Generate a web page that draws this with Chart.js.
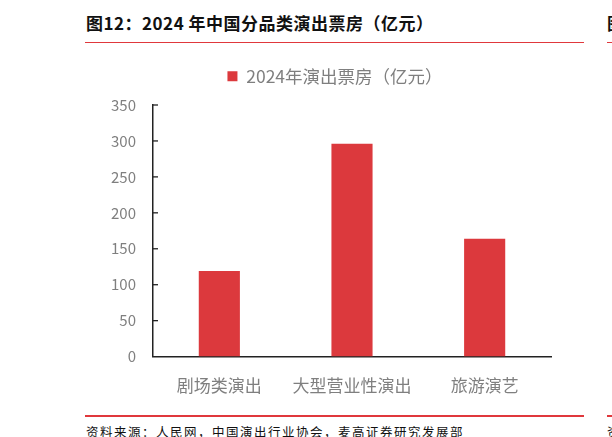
<!DOCTYPE html>
<html>
<head>
<meta charset="utf-8">
<script src="https://cdn.jsdelivr.net/npm/chart.js@4.4.1/dist/chart.umd.min.js"></script>
<style>
  html, body { margin: 0; padding: 0; background: #fff; }
  body { width: 612px; height: 437px; position: relative; overflow: hidden; font-family: "Noto Sans CJK SC", "Noto Sans", sans-serif; }
  #title { position: absolute; left: 86px; top: 11px; font-size: 17px; font-weight: bold; color: #111; white-space: nowrap; line-height: 24px; letter-spacing: 0.5px; }
  .redline { position: absolute; height: 1.5px; background: #e0383c; }
  #source { position: absolute; left: 86px; top: 423px; font-size: 12.5px; color: #111; letter-spacing: 1.5px; white-space: nowrap; line-height: 18px; }
  #chartbox { position: absolute; left: 85px; top: 42px; width: 499px; height: 373px; }
  .partial { position: absolute; left: 607px; white-space: nowrap; color: #111; }
</style>
</head>
<body>
<div id="title">图12：2024 年中国分品类演出票房（亿元）</div>
<div class="redline" style="left:85px; top:41.5px; width:499px;"></div>
<div class="partial" style="top:11px; font-size:17px; font-weight:bold; line-height:24px;">图</div>
<div class="redline" style="left:607px; top:41.5px; width:10px;"></div>
<div id="chartbox"><canvas id="c"></canvas></div>
<div class="redline" style="left:85px; top:415px; width:499px;"></div>
<div class="redline" style="left:607px; top:415px; width:10px;"></div>
<div id="source">资料来源：人民网，中国演出行业协会，麦高证券研究发展部</div>
<div class="partial" style="top:423px; font-size:12.5px; line-height:18px;">资</div>
<script>
const categories = ["剧场类演出", "大型营业性演出", "旅游演艺"];
const seriesName = "2024年演出票房（亿元）";
const boxOffice = [119, 296, 164];
const yTicks = [0, 50, 100, 150, 200, 250, 300, 350];

const insideTicks = {
  id: 'insideTicks',
  afterLayout(chart) {
    const lg = chart.legend;
    if (lg) {
      lg.left += 7; lg.right += 7;
      lg.top -= 10; lg.bottom -= 10;
    }
  },
  afterDraw(chart) {
    const ys = chart.scales.y;
    const ctx = chart.ctx;
    const left = chart.chartArea.left;
    ctx.save();
    ctx.strokeStyle = '#222';
    ctx.lineWidth = 1.3;
    ys.ticks.forEach((t) => {
      if (t.value === 0) return;
      const y = ys.getPixelForValue(t.value);
      ctx.beginPath();
      ctx.moveTo(left, y);
      ctx.lineTo(left + 5, y);
      ctx.stroke();
    });
    ctx.restore();
  }
};

new Chart(document.getElementById('c'), {
  type: 'bar',
  data: {
    labels: categories,
    datasets: [{
      label: seriesName,
      data: boxOffice,
      backgroundColor: '#dc393d',
      borderWidth: 0,
      barPercentage: 0.31,
      categoryPercentage: 1.0
    }]
  },
  options: {
    responsive: true,
    maintainAspectRatio: false,
    animation: false,
    layout: { padding: { left: 20, right: 33, top: 0, bottom: 0 } },
    plugins: {
      legend: {
        position: 'top',
        labels: {
          boxWidth: 10,
          boxHeight: 10,
          padding: 35.5,
          color: '#7f7f7f',
          font: { family: '"Noto Sans CJK SC", "Noto Sans", sans-serif', size: 17.5 }
        }
      },
      tooltip: { enabled: false }
    },
    scales: {
      x: {
        grid: { display: false, drawTicks: false },
        border: { display: true, color: '#222', width: 1.5 },
        ticks: {
          color: '#7f7f7f',
          padding: 19,
          font: { family: '"Noto Sans CJK SC", "Noto Sans", sans-serif', size: 17 }
        }
      },
      y: {
        min: 0,
        max: 350,
        afterFit(scale) { scale.width = 48; },
        afterBuildTicks(scale) { scale.ticks = yTicks.map(v => ({ value: v })); },
        grid: { display: false, drawTicks: false },
        border: { display: true, color: '#222', width: 1.5 },
        ticks: {
          color: '#7f7f7f',
          padding: 17,
          font: { family: '"Noto Sans CJK SC", "Noto Sans", sans-serif', size: 15 }
        }
      }
    }
  },
  plugins: [insideTicks]
});
</script>
</body>
</html>
